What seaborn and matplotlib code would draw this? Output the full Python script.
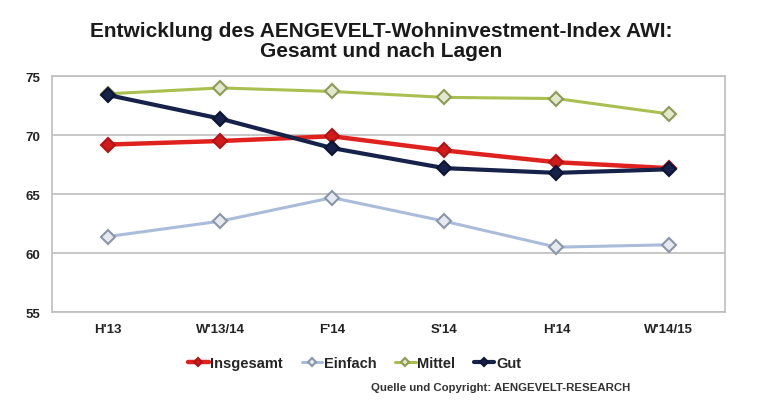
import matplotlib
matplotlib.use("Agg")
import matplotlib.pyplot as plt
import pandas as pd
import seaborn as sns

periods = ["H'13", "W'13/14", "F'14", "S'14", "H'14", "W'14/15"]
insgesamt = [69.2, 69.5, 69.9, 68.7, 67.7, 67.2]
einfach = [61.4, 62.7, 64.7, 62.7, 60.5, 60.7]
mittel = [73.5, 74.0, 73.7, 73.2, 73.1, 71.8]
gut = [73.4, 71.4, 68.9, 67.2, 66.8, 67.1]

series = {"Insgesamt": insgesamt, "Einfach": einfach, "Mittel": mittel, "Gut": gut}
styles = {
    "Insgesamt": dict(color="#e0221f", lw=3.2, mfc="#d11a1a", mec="#b01515", ms=7),
    "Einfach": dict(color="#a9bcd9", lw=2.2, mfc="#e6e9ee", mec="#8a96a8", ms=7),
    "Mittel": dict(color="#a9bf4f", lw=2.2, mfc="#e3e8cc", mec="#8c9a55", ms=7),
    "Gut": dict(color="#16224a", lw=3.0, mfc="#16224a", mec="#0d1533", ms=7),
}

rows = []
for name, vals in series.items():
    for i, v in enumerate(vals):
        rows.append({"pos": i, "value": v, "series": name})
df = pd.DataFrame(rows)

sns.set_style("white")
plt.rcParams['font.family'] = ['Liberation Sans', 'DejaVu Sans']

fig = plt.figure(figsize=(7.62, 4.06), dpi=100)
ax = fig.add_axes([0.068, 0.229, 0.883, 0.581])

for name in series:
    st = styles[name]
    sns.lineplot(data=df[df["series"] == name], x="pos", y="value", ax=ax,
                 color=st["color"], linewidth=st["lw"], marker="D",
                 markersize=st["ms"], markerfacecolor=st["mfc"],
                 markeredgecolor=st["mec"], markeredgewidth=1.5,
                 label=name)

ax.set_xlim(-0.5, len(periods) - 0.5)
ax.set_ylim(55, 75)
ax.set_yticks([55, 60, 65, 70, 75])
ax.set_xticks(range(len(periods)))
ax.set_xticklabels(periods, fontweight="bold", fontsize=9.5, color="#222222")
ax.set_xticks([i + 0.5 for i in range(len(periods) - 1)], minor=True)
ax.tick_params(axis="x", which="major", length=0, pad=8)
ax.tick_params(axis="x", which="minor", length=4, color="#bbbbbb", direction="in")
ax.tick_params(axis="y", length=0, pad=8)
for lab in ax.get_yticklabels():
    lab.set_fontweight("bold")
    lab.set_fontsize(9.5)
    lab.set_color("#222222")
ax.set_xlabel("")
ax.set_ylabel("")
ax.yaxis.grid(True, color="#bdbdbd", linewidth=1.2)
ax.set_axisbelow(True)
for sp in ax.spines.values():
    sp.set_color("#bdbdbd")
    sp.set_linewidth(1.2)

fig.text(0.5, 0.898, "Entwicklung des AENGEVELT-Wohninvestment-Index AWI:\nGesamt und nach Lagen",
         ha="center", va="center", fontsize=15, fontweight="bold", linespacing=1.12,
         color="#1a1a1a")

handles, labels = ax.get_legend_handles_labels()
ax.legend(handles, labels, loc="center", bbox_to_anchor=(0.45, -0.215), ncol=4,
          frameon=False, handlelength=1.4, handletextpad=0.1, columnspacing=1.3,
          prop={"weight": "bold", "size": 10.5}, markerscale=0.6)

fig.text(0.827, 0.045, "Quelle und Copyright: AENGEVELT-RESEARCH", ha="right",
         va="center", fontsize=8.2, fontweight="bold", color="#333333")

fig.savefig("out.png", dpi=100, facecolor="white")
